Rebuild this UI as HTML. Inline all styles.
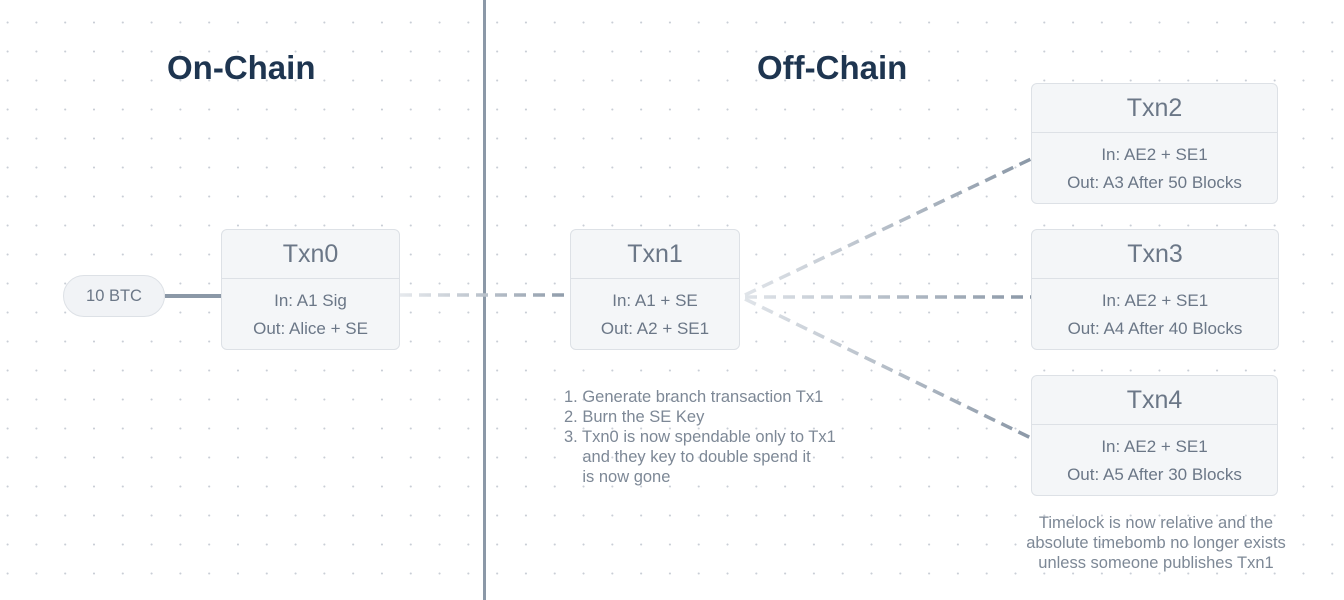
<!DOCTYPE html>
<html><head><meta charset="utf-8"><style>
body{margin:0;width:1344px;height:600px;overflow:hidden;background:#fff;font-family:"Liberation Sans",sans-serif;position:relative;
background-image:radial-gradient(circle,#c9ced6 0.8px,transparent 1.2px);background-size:28.8px 29px;background-position:22px 8px;}
.t{position:absolute;font-weight:bold;color:#1e3550;font-size:33px;}
.box{position:absolute;background:#f4f6f8;border:1px solid #dde1e6;border-radius:6px;box-sizing:border-box;color:#6b7787;text-align:center;}
.box .h{height:48px;border-bottom:1px solid #dde1e6;font-size:25px;line-height:48px;color:#6b7787;}
.box .r{font-size:17px;line-height:28px;white-space:nowrap;}
.box .b{padding-top:8px;}
.note{position:absolute;color:#7d8896;font-size:16.5px;line-height:20px;white-space:nowrap;}
</style></head><body>
<div style="position:absolute;left:483px;top:0;width:3px;height:600px;background:#8b98a7"></div>
<div class="t" style="left:167px;top:49px">On-Chain</div>
<div class="t" style="left:757px;top:49px">Off-Chain</div>
<svg width="1344" height="600" style="position:absolute;left:0;top:0">
<defs>
<linearGradient id="g0" x1="0" x2="1"><stop offset="0" stop-color="#fff"/><stop offset="1" stop-color="#d6dbe1"/></linearGradient>
<linearGradient id="g1" gradientUnits="userSpaceOnUse" x1="400" y1="0" x2="575" y2="0"><stop offset="0" stop-color="#e6e9ed"/><stop offset="1" stop-color="#8b98a7"/></linearGradient>
<linearGradient id="g2" gradientUnits="userSpaceOnUse" x1="740" y1="0" x2="1031" y2="0"><stop offset="0" stop-color="#e1e5ea"/><stop offset="1" stop-color="#8b98a7"/></linearGradient>
</defs>
<line x1="0" y1="296" x2="64" y2="296" stroke="url(#g0)" stroke-width="3"/>
<line x1="165" y1="296" x2="222" y2="296" stroke="#8b98a7" stroke-width="4"/>
<line x1="400" y1="295" x2="572" y2="295" stroke="url(#g1)" stroke-width="3.5" stroke-dasharray="12,7"/>
<line x1="745" y1="295" x2="1031" y2="159" stroke="url(#g2)" stroke-width="3.5" stroke-dasharray="12,7"/>
<line x1="745" y1="297" x2="1031" y2="297" stroke="url(#g2)" stroke-width="3.5" stroke-dasharray="12,7"/>
<line x1="745" y1="299" x2="1031" y2="438" stroke="url(#g2)" stroke-width="3.5" stroke-dasharray="12,7"/>
</svg>
<div style="position:absolute;left:63px;top:275px;width:102px;height:42px;box-sizing:border-box;border:1px solid #dde1e6;border-radius:21px;background:#f1f3f6;color:#6b7787;font-size:16.5px;line-height:40px;text-align:center">10 BTC</div>
<div class="box" style="left:221px;top:229px;width:179px;height:121px"><div class="h">Txn0</div><div class="b"><div class="r">In: A1 Sig</div><div class="r">Out: Alice + SE</div></div></div>
<div class="box" style="left:570px;top:229px;width:170px;height:121px"><div class="h">Txn1</div><div class="b"><div class="r">In: A1 + SE</div><div class="r">Out: A2 + SE1</div></div></div>
<div class="box" style="left:1031px;top:83px;width:247px;height:121px"><div class="h">Txn2</div><div class="b"><div class="r">In: AE2 + SE1</div><div class="r">Out: A3 After 50 Blocks</div></div></div>
<div class="box" style="left:1031px;top:229px;width:248px;height:121px"><div class="h">Txn3</div><div class="b"><div class="r">In: AE2 + SE1</div><div class="r">Out: A4 After 40 Blocks</div></div></div>
<div class="box" style="left:1031px;top:375px;width:247px;height:121px"><div class="h">Txn4</div><div class="b"><div class="r">In: AE2 + SE1</div><div class="r">Out: A5 After 30 Blocks</div></div></div>
<div class="note" style="left:564px;top:387px">1. Generate branch transaction Tx1<br>2. Burn the SE Key<br>3. Txn0 is now spendable only to Tx1<br>&nbsp;&nbsp;&nbsp;&nbsp;and they key to double spend it<br>&nbsp;&nbsp;&nbsp;&nbsp;is now gone</div>
<div class="note" style="left:1006px;top:513px;width:300px;text-align:center">Timelock is now relative and the<br>absolute timebomb no longer exists<br>unless someone publishes Txn1</div>
</body></html>
